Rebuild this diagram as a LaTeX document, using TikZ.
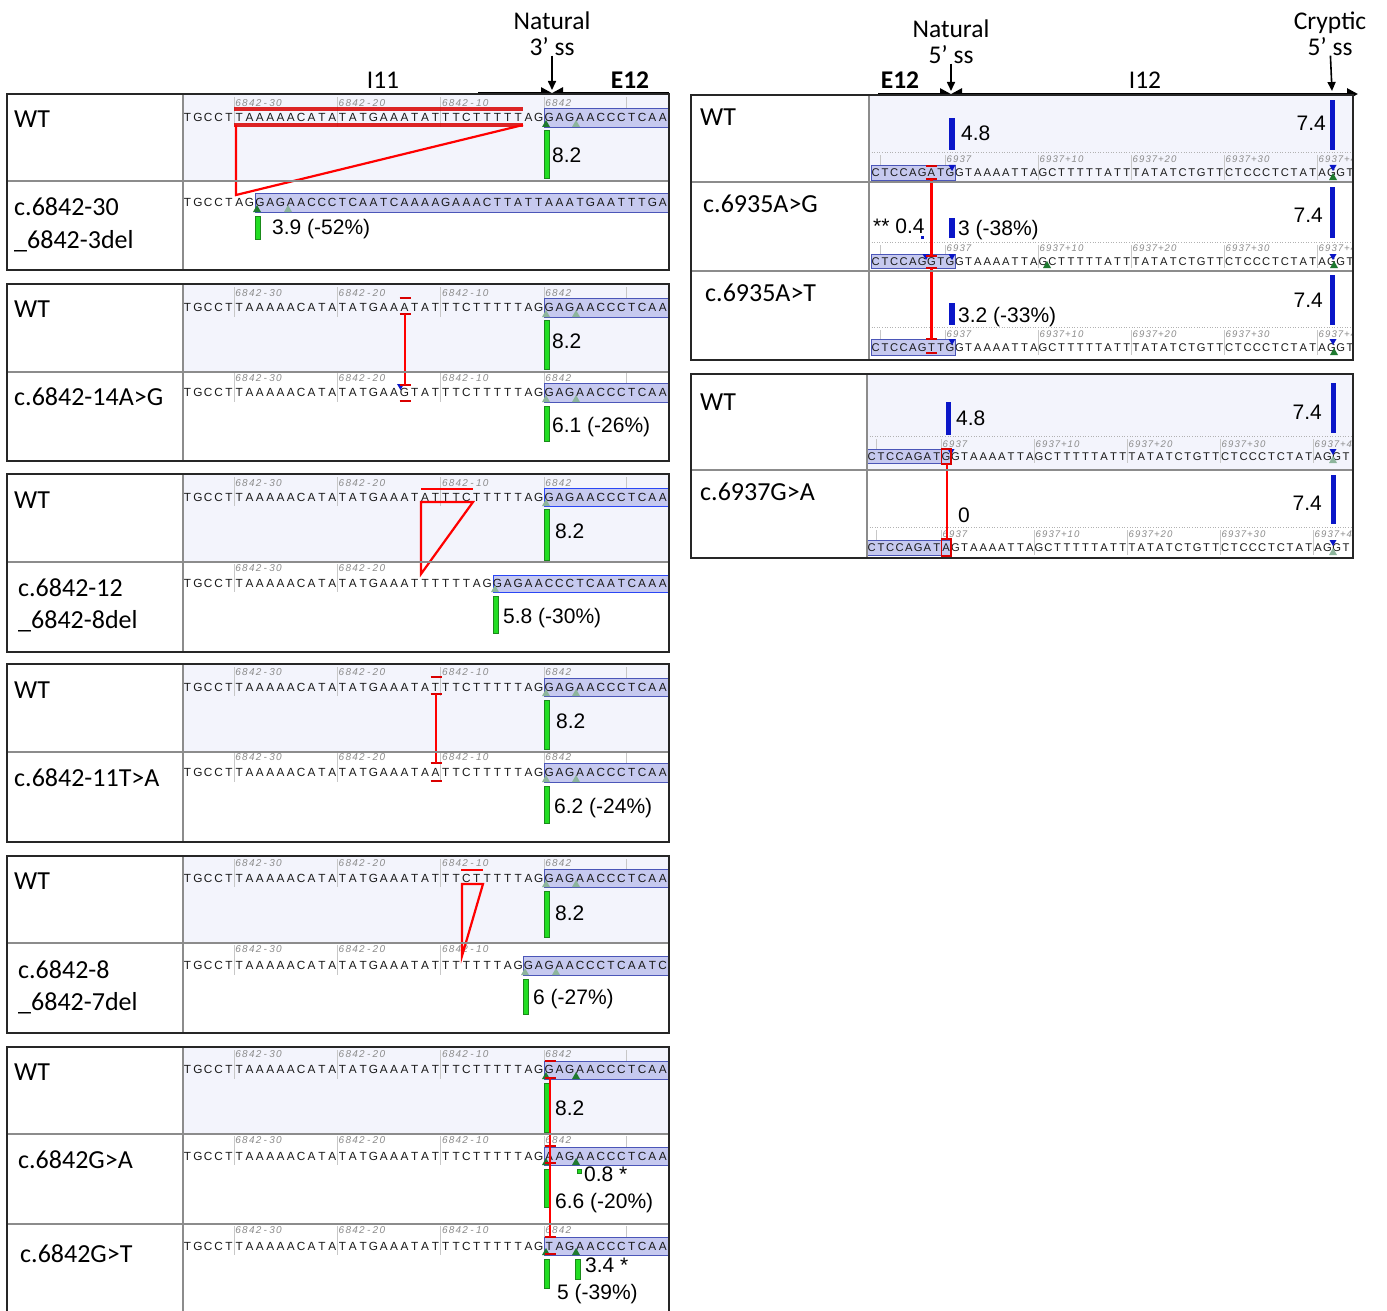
\documentclass[tikz,border=0pt]{standalone}
\usepackage{fontspec}
\usetikzlibrary{arrows.meta}
\newfontfamily\carl{Carlito}
\newfontfamily\libs{Liberation Sans}
\newcommand\lblfont{\carl\fontsize{26}{30}\selectfont}
\newcommand\hdrfont{\carl\fontsize{25.5}{30}\selectfont}
\newcommand\numfont{\libs\fontsize{21}{24}\selectfont}
\newcommand\seqfont{\libs\fontsize{11.8}{13}\selectfont}
\newcommand\rseqfont{\libs\fontsize{11.2}{13}\selectfont}
\newcommand\rulfont{\libs\itshape\fontsize{10}{11}\selectfont}
\newcommand\rrulfont{\libs\itshape\fontsize{9.6}{11}\selectfont}
\definecolor{wtbg}{HTML}{F3F4FC}
\definecolor{exonfill}{HTML}{C6C9EF}
\definecolor{exonline}{HTML}{4B56B8}
\definecolor{exonbright}{HTML}{2A46F5}
\definecolor{barg}{HTML}{22DD22}
\definecolor{bargline}{HTML}{1A8A1A}
\definecolor{barb}{HTML}{0A16C8}
\definecolor{trig}{HTML}{1F7A30}
\definecolor{trip}{HTML}{8DB59C}
\definecolor{redc}{HTML}{FF0000}
\newcount\myseqcnt
\newcommand\putseq[5]{\tikzset{curseq/.style={#1}}\def\sqX{#2}\def\sqY{#3}\def\sqP{#4}\myseqcnt=0 \sqloop#5\relax}
\def\sqloop#1{\ifx\relax#1\else\node[curseq] at ({\sqX+(\the\myseqcnt+0.5)*\sqP},\sqY) {#1};\advance\myseqcnt by 1 \expandafter\sqloop\fi}
\newcommand\lseq[2]{\putseq{seqch}{182.4}{#1}{10.33}{#2}}
\newcommand\rseq[3]{\putseq{rseqch}{#1}{#2}{9.3}{#3}}
\newcommand\gtri[3]{\fill[#1] ({#2-4},#3) -- ({#2+4},#3) -- (#2,{#3-7}) -- cycle;}
\newcommand\btri[2]{\fill[barb] ({#1-3.5},#2) -- ({#1+3.5},#2) -- (#1,{#2+6}) -- cycle;}
\newcommand\rcap[2]{\draw[redcap] ({#1-5.5},#2) -- ({#1+5.5},#2);}
\newcommand\lticks[3]{\foreach \tx in {234.05,337.35,440.65,543.95,626.6}{\draw[rtick] (\tx,#1) -- (\tx,#2);}%
 \putseq{rulch}{234.8}{#3}{6.8}{6842-30}\putseq{rulch}{338.1}{#3}{6.8}{6842-20}\putseq{rulch}{441.4}{#3}{6.8}{6842-10}\putseq{rulch}{544.7}{#3}{6.8}{6842}}
\newcommand\rticks[4]{\foreach \k in {8,18,28,38,48}{\draw[rtick] ({#1+\k*9.3},#2) -- ({#1+\k*9.3},#3);}\draw[rtick] ({#1+9},#2) -- ({#1+9},#3);%
 \putseq{rrulch}{#1+75.2}{#4}{6.4}{6937}\putseq{rrulch}{#1+168.2}{#4}{6.4}{6937+10}\putseq{rrulch}{#1+261.2}{#4}{6.4}{6937+20}\putseq{rrulch}{#1+354.2}{#4}{6.4}{6937+30}\putseq{rrulch}{#1+447.2}{#4}{6.4}{6937+40}}
\tikzset{
 lbl/.style={font=\lblfont, anchor=base west, inner sep=0pt, yshift=-8.4pt},
 hdr/.style={font=\hdrfont, anchor=base, inner sep=0pt, yshift=-8.2pt},
 num/.style={font=\numfont, anchor=base west, inner sep=0pt, yshift=-7.5pt},
 numr/.style={font=\numfont, anchor=base east, inner sep=0pt, yshift=-7.5pt},
 seqch/.style={font=\seqfont, anchor=base, inner sep=0pt, text=black!90},
 rseqch/.style={font=\rseqfont, anchor=base, inner sep=0pt, text=black!90},
 rulch/.style={font=\rulfont, anchor=base, inner sep=0pt, text=black!45},
 rrulch/.style={font=\rrulfont, anchor=base, inner sep=0pt, text=black!45},
 panelframe/.style={draw=black!85, line width=1.4pt},
 divl/.style={draw=black!45, line width=1.1pt},
 exon/.style={draw=exonline, fill=exonfill, line width=0.8pt},
 gbar/.style={draw=bargline, fill=barg, line width=0.6pt},
 bbar/.style={fill=barb},
 redl/.style={draw=redc, line width=2.2pt},
 redbar/.style={draw=red!85!black, line width=3.5pt, opacity=0.85},
 redcap/.style={draw=red!85!black, line width=2.6pt},
 redbox/.style={draw=red!85!black, line width=1.8pt},
 rtick/.style={draw=black!22, line width=0.6pt},
 dotl/.style={draw=black!30, line width=0.6pt, dotted},
 hline/.style={draw=black, line width=2.6pt, -{Triangle[length=11pt,width=11pt]}},
 darr/.style={draw=black, line width=1.6pt, -{Triangle[length=9pt,width=8pt]}},
}
\begin{document}
\begin{tikzpicture}[x=1pt,y=-1pt]
\useasboundingbox (0,0) rectangle (1387,1311);
\fill[white] (0,0) rectangle (1387,1311);

% ================= LEFT HEADER =================
\node[hdr] (nat3) at (552,21) {Natural};
\node[hdr] (nat3b) at (552,47) {3’ ss};
\coordinate (nat3tip) at (552,90);
\draw[darr] (nat3b) -- (nat3tip);
\node[hdr] (i11) at (383,80) {I11};
\node[hdr, font=\hdrfont\bfseries] (e12a) at (630,80) {E12};
\coordinate (i11l) at (478,93); \coordinate (ss3) at (552,93); \coordinate (e12ar) at (669,93);
\draw[hline] (i11l) -- (ss3);
\draw[hline] (e12ar) -- (ss3);

% ================= PANEL 1 =================
\fill[wtbg] (183,94) rectangle (669,181);
\lticks{97}{127}{106.5}
\draw[exon] (544,108) rectangle (669,127);
\lseq{121.5}{TGCCTTAAAAACATATATGAAATATTTCTTTTTAGGAGAACCCTCAA}
\gtri{trig}{546}{127}\gtri{trip}{576}{127}
\draw[gbar] (544,130) rectangle (549,178);
\node[num] (p1v) at (552,155) {8.2};
\draw[exon] (255,193) rectangle (669,212);
\lseq{206.5}{TGCCTAGGAGAACCCTCAATCAAAAGAAACTTATTAAATGAATTTGA}
\gtri{trig}{257}{212}\gtri{trip}{288}{212}
\draw[gbar] (255,216) rectangle (260,239);
\node[num] (p1m) at (272,227) {3.9 (-52\%)};
\draw[redbar] (234,109) -- (523,109);
\draw[redbar] (234,125) -- (523,125);
\coordinate (p1a) at (236,125); \coordinate (p1b) at (236,195); \coordinate (p1c) at (523,125);
\draw[redl] (p1a) -- (p1b) -- (p1c);
\node[lbl] (p1wt) at (14,119) {WT};
\node[lbl] (p1l1) at (14,207) {c.6842-30};
\node[lbl] (p1l2) at (14,240) {\_6842-3del};
\draw[divl] (183,94) -- (183,270); \draw[divl] (7,181) -- (669,181);
\draw[panelframe] (7,94) rectangle (669,270);

% ================= PANEL 2 =================
\fill[wtbg] (183,284) rectangle (669,372);
\lticks{287}{317}{296.5}
\draw[exon] (544,298) rectangle (669,317);
\lseq{311.5}{TGCCTTAAAAACATATATGAAATATTTCTTTTTAGGAGAACCCTCAA}
\gtri{trip}{546}{317}\gtri{trip}{576}{317}
\draw[gbar] (544,320) rectangle (549,369);
\node[num] (p2v) at (552,341) {8.2};
\lticks{373}{402}{381.5}
\draw[exon] (544,383) rectangle (669,402);
\lseq{396.5}{TGCCTTAAAAACATATATGAAGTATTTCTTTTTAGGAGAACCCTCAA}
\gtri{trip}{546}{402}\gtri{trip}{576}{402}
\btri{400.5}{384}
\draw[gbar] (544,406) rectangle (549,441);
\node[num] (p2m) at (552,425) {6.1 (-26\%)};
\rcap{405}{298}\rcap{405}{314}\rcap{405}{385}\rcap{405}{401}
\coordinate (p2a) at (405,314); \coordinate (p2b) at (405,385);
\draw[redl] (p2a) -- (p2b);
\node[lbl] (p2wt) at (14,309) {WT};
\node[lbl] (p2l1) at (14,397) {c.6842-14A>G};
\draw[divl] (183,284) -- (183,461); \draw[divl] (7,372) -- (669,372);
\draw[panelframe] (7,284) rectangle (669,461);

% ================= PANEL 3 =================
\fill[wtbg] (183,474) rectangle (669,562);
\lticks{477}{506}{486.5}
\draw[exon, draw=exonbright] (544,488) rectangle (669,506);
\lseq{501.5}{TGCCTTAAAAACATATATGAAATATTTCTTTTTAGGAGAACCCTCAA}
\gtri{trip}{546}{506}
\draw[gbar] (544,509) rectangle (549,560);
\node[num] (p3v) at (555,531) {8.2};
\foreach \tx in {234.05,337.35}{\draw[rtick] (\tx,564) -- (\tx,592);}
\putseq{rulch}{234.8}{571.5}{6.8}{6842-30}\putseq{rulch}{338.1}{571.5}{6.8}{6842-20}
\draw[exon, draw=exonbright] (493,575) rectangle (669,592);
\lseq{587}{TGCCTTAAAAACATATATGAAATTTTTTAGGAGAACCCTCAATCAAA}
\gtri{trip}{495}{592}
\draw[gbar] (493,596) rectangle (498,633);
\node[num] (p3m) at (503,616) {5.8 (-30\%)};
\draw[redl] (421,489) -- (473,489);
\draw[redl] (421,502) -- (473,502);
\coordinate (p3a) at (421,502); \coordinate (p3b) at (421,574); \coordinate (p3c) at (473,502);
\draw[redl] (p3c) -- (p3a) -- (p3b) -- cycle;
\node[lbl] (p3wt) at (14,500) {WT};
\node[lbl] (p3l1) at (18,588) {c.6842-12};
\node[lbl] (p3l2) at (18,620) {\_6842-8del};
\draw[divl] (183,474) -- (183,652); \draw[divl] (7,562) -- (669,562);
\draw[panelframe] (7,474) rectangle (669,652);

% ================= PANEL 4 =================
\fill[wtbg] (183,664) rectangle (669,752);
\lticks{667}{696}{675.5}
\draw[exon] (544,678) rectangle (669,696);
\lseq{691}{TGCCTTAAAAACATATATGAAATATTTCTTTTTAGGAGAACCCTCAA}
\gtri{trip}{546}{696}\gtri{trip}{576}{696}
\draw[gbar] (544,700) rectangle (549,749);
\node[num] (p4v) at (556,721) {8.2};
\lticks{753}{782}{760.5}
\draw[exon] (544,763) rectangle (669,782);
\lseq{776.5}{TGCCTTAAAAACATATATGAAATAATTCTTTTTAGGAGAACCCTCAA}
\gtri{trip}{546}{782}\gtri{trip}{576}{782}
\draw[gbar] (544,786) rectangle (549,823);
\node[num] (p4m) at (554,806) {6.2 (-24\%)};
\rcap{436}{677}\rcap{436}{694}\rcap{436}{763}\rcap{436}{781}
\coordinate (p4a) at (436,694); \coordinate (p4b) at (436,763);
\draw[redl] (p4a) -- (p4b);
\node[lbl] (p4wt) at (14,690) {WT};
\node[lbl] (p4l1) at (14,778) {c.6842-11T>A};
\draw[divl] (183,664) -- (183,842); \draw[divl] (7,752) -- (669,752);
\draw[panelframe] (7,664) rectangle (669,842);

% ================= PANEL 5 =================
\fill[wtbg] (183,856) rectangle (669,943);
\lticks{859}{887}{866.5}
\draw[exon] (544,869) rectangle (669,887);
\lseq{882}{TGCCTTAAAAACATATATGAAATATTTCTTTTTAGGAGAACCCTCAA}
\gtri{trip}{546}{887}\gtri{trip}{576}{887}
\draw[gbar] (544,891) rectangle (549,937);
\node[num] (p5v) at (555,913) {8.2};
\foreach \tx in {234.05,337.35,440.65}{\draw[rtick] (\tx,945) -- (\tx,975);}
\putseq{rulch}{234.8}{952.5}{6.8}{6842-30}\putseq{rulch}{338.1}{952.5}{6.8}{6842-20}\putseq{rulch}{441.4}{952.5}{6.8}{6842-10}
\draw[exon] (523,956) rectangle (669,975);
\lseq{969.5}{TGCCTTAAAAACATATATGAAATATTTTTTTAGGAGAACCCTCAATC}
\gtri{trip}{525}{975}\gtri{trip}{556}{975}
\draw[gbar] (523,979) rectangle (528,1014);
\node[num] (p5m) at (533,997) {6 (-27\%)};
\draw[redl] (461,870) -- (483,870);
\draw[redl] (461,884) -- (483,884);
\coordinate (p5a) at (462,884); \coordinate (p5b) at (462,956); \coordinate (p5c) at (483,884);
\draw[redl] (p5c) -- (p5a) -- (p5b) -- cycle;
\node[lbl] (p5wt) at (14,881) {WT};
\node[lbl] (p5l1) at (18,970) {c.6842-8};
\node[lbl] (p5l2) at (18,1002) {\_6842-7del};
\draw[divl] (183,856) -- (183,1033); \draw[divl] (7,943) -- (669,943);
\draw[panelframe] (7,856) rectangle (669,1033);

% ================= PANEL 6 =================
\fill[wtbg] (183,1047) rectangle (669,1134);
\lticks{1050}{1079}{1057.5}
\draw[exon] (544,1061) rectangle (669,1079);
\lseq{1073.5}{TGCCTTAAAAACATATATGAAATATTTCTTTTTAGGAGAACCCTCAA}
\gtri{trig}{546}{1079}\gtri{trig}{576}{1079}
\draw[gbar] (544,1083) rectangle (549,1132);
\node[num] (p6v) at (555,1108) {8.2};
\lticks{1136}{1165}{1143.5}
\draw[exon] (544,1147) rectangle (669,1165);
\lseq{1160}{TGCCTTAAAAACATATATGAAATATTTCTTTTTAGAAGAACCCTCAA}
\gtri{trig}{546}{1165}\gtri{trig}{576}{1165}
\draw[gbar] (544,1169) rectangle (549,1207);
\draw[gbar] (577,1169) rectangle (581,1173);
\node[num] (p6a1) at (584,1174) {0.8 *};
\node[num] (p6a2) at (555,1201) {6.6 (-20\%)};
\lticks{1226}{1255}{1233.5}
\draw[exon] (544,1237) rectangle (669,1255);
\lseq{1250}{TGCCTTAAAAACATATATGAAATATTTCTTTTTAGTAGAACCCTCAA}
\gtri{trig}{546}{1255}\gtri{trig}{576}{1255}
\draw[gbar] (544,1259) rectangle (549,1288);
\draw[gbar] (575,1259) rectangle (580,1279);
\node[num] (p6b1) at (585,1265) {3.4 *};
\node[num] (p6b2) at (557,1292) {5 (-39\%)};
\rcap{550}{1061}\rcap{550}{1078}\rcap{550}{1146}\rcap{550}{1163}\rcap{550}{1237}\rcap{550}{1254}
\coordinate (p6a) at (550,1078); \coordinate (p6b) at (550,1237);
\draw[redl] (p6a) -- (p6b);
\node[lbl] (p6wt) at (14,1072) {WT};
\node[lbl] (p6l1) at (18,1160) {c.6842G>A};
\node[lbl] (p6l2) at (20,1254) {c.6842G>T};
\draw[divl] (183,1047) -- (183,1311); \draw[divl] (7,1134) -- (669,1134); \draw[divl] (7,1224) -- (669,1224);
\draw[panelframe] (7,1311) -- (7,1047) -- (669,1047) -- (669,1311);

% ================= RIGHT HEADER =================
\node[hdr] (nat5) at (951,29) {Natural};
\node[hdr] (nat5b) at (951,55) {5’ ss};
\coordinate (nat5tip) at (951,91);
\draw[darr] (nat5b) -- (nat5tip);
\node[hdr] (cr5) at (1330,21) {Cryptic};
\node[hdr] (cr5b) at (1330,47) {5’ ss};
\coordinate (cr5tip) at (1332,91);
\draw[darr] (cr5b) -- (cr5tip);
\node[hdr, font=\hdrfont\bfseries] (e12b) at (900,80) {E12};
\node[hdr] (i12) at (1145,80) {I12};
\coordinate (e12bl) at (878,94); \coordinate (ss5) at (951,94); \coordinate (i12r) at (1358,94);
\draw[hline] (e12bl) -- (ss5);
\draw[hline, {Triangle[length=11pt,width=11pt]}-{Triangle[length=11pt,width=11pt]}] (ss5) -- (i12r);

% ================= RIGHT PANEL 1 =================
\fill[wtbg] (869,95) rectangle (1353,182);
\begin{scope}
\clip (869,95) rectangle (1353,360);
\foreach \yy in {152,242,327} \draw[dotl] (869,\yy) -- (1353,\yy);
\rticks{871}{155}{180}{162.5}
\draw[exon] (871,165) rectangle (955,180);
\rseq{871}{176}{CTCCAGATGGTAAAATTAGCTTTTTATTTATATCTGTTCTCCCTCTATAGGT}
\btri{952}{165}\btri{1333}{165}\gtri{trig}{1333}{180}
\fill[bbar] (949,118) rectangle (955,150);
\fill[bbar] (1330,100) rectangle (1335,150);
\rticks{871}{245}{268}{251.5}
\draw[exon] (871,254) rectangle (955,268);
\rseq{871}{265.5}{CTCCAGGTGGTAAAATTAGCTTTTTATTTATATCTGTTCTCCCTCTATAGGT}
\btri{926}{254}\btri{952}{254}\btri{1333}{254}\gtri{trig}{1047}{268}\gtri{trig}{1334}{268}
\fill[bbar] (921,236) rectangle (924,239);
\fill[bbar] (949,218) rectangle (955,238);
\fill[bbar] (1330,187) rectangle (1335,238);
\rticks{871}{330}{355}{337.5}
\draw[exon] (871,339) rectangle (955,355);
\rseq{871}{351}{CTCCAGTTGGTAAAATTAGCTTTTTATTTATATCTGTTCTCCCTCTATAGGT}
\btri{952}{339}\btri{1333}{339}\gtri{trig}{1334}{355}
\fill[bbar] (949,303) rectangle (955,325);
\fill[bbar] (1330,275) rectangle (1335,325);
\end{scope}
\node[num] (r1v1) at (961,133) {4.8};
\node[numr] (r1v2) at (1326,123) {7.4};
\node[num] (r1m0) at (873,226) {** 0.4};
\node[num] (r1m1) at (958,228) {3 (-38\%)};
\node[numr] (r1m2) at (1323,215) {7.4};
\node[num] (r1n1) at (958,315) {3.2 (-33\%)};
\node[numr] (r1n2) at (1323,300) {7.4};
\rcap{931.5}{166}\rcap{931.5}{179}\rcap{931.5}{256}\rcap{931.5}{268}\rcap{931.5}{339}\rcap{931.5}{353}
\coordinate (r1a) at (931.5,179); \coordinate (r1b) at (931.5,256);
\coordinate (r1c) at (931.5,268); \coordinate (r1d) at (931.5,339);
\draw[redl] (r1a) -- (r1b); \draw[redl] (r1c) -- (r1d);
\node[lbl] (r1wt) at (700,117) {WT};
\node[lbl] (r1l1) at (703,204) {c.6935A>G};
\node[lbl] (r1l2) at (705,293) {c.6935A>T};
\draw[divl] (869,95) -- (869,360); \draw[divl] (691,182) -- (1353,182); \draw[divl] (691,271) -- (1353,271);
\draw[panelframe] (691,95) rectangle (1353,360);

% ================= RIGHT PANEL 2 =================
\fill[wtbg] (867,374) rectangle (1353,470);
\begin{scope}
\clip (867,374) rectangle (1353,558);
\foreach \yy in {436,527} \draw[dotl] (867,\yy) -- (1353,\yy);
\rticks{867}{439}{463}{447.5}
\draw[exon] (867,449) rectangle (951,463);
\rseq{867}{460}{CTCCAGATGGTAAAATTAGCTTTTTATTTATATCTGTTCTCCCTCTATAGGT}
\btri{951}{449}\btri{1333}{449}\gtri{trip}{1333}{463}
\fill[bbar] (946,402) rectangle (951,435);
\fill[bbar] (1331,383) rectangle (1336,433);
\rticks{867}{530}{555}{537.5}
\draw[exon] (867,540) rectangle (951,555);
\rseq{867}{551}{CTCCAGATAGTAAAATTAGCTTTTTATTTATATCTGTTCTCCCTCTATAGGT}
\btri{1333}{540}\gtri{trip}{1333}{555}
\fill[bbar] (1331,475) rectangle (1336,524);
\end{scope}
\node[num] (r2v1) at (956,418) {4.8};
\node[numr] (r2v2) at (1322,412) {7.4};
\node[num] (r2m1) at (958,515) {0};
\node[numr] (r2m2) at (1322,503) {7.4};
\draw[redbox] (941.5,449) rectangle (951,464);
\draw[redbox] (941.5,539) rectangle (951,556);
\coordinate (r2a) at (947,464); \coordinate (r2b) at (947,539);
\draw[redl] (r2a) -- (r2b);
\node[lbl] (r2wt) at (700,402) {WT};
\node[lbl] (r2l1) at (700,492) {c.6937G>A};
\draw[divl] (867,374) -- (867,558); \draw[divl] (691,470) -- (1353,470);
\draw[panelframe] (691,374) rectangle (1353,558);
\end{tikzpicture}
\end{document}
